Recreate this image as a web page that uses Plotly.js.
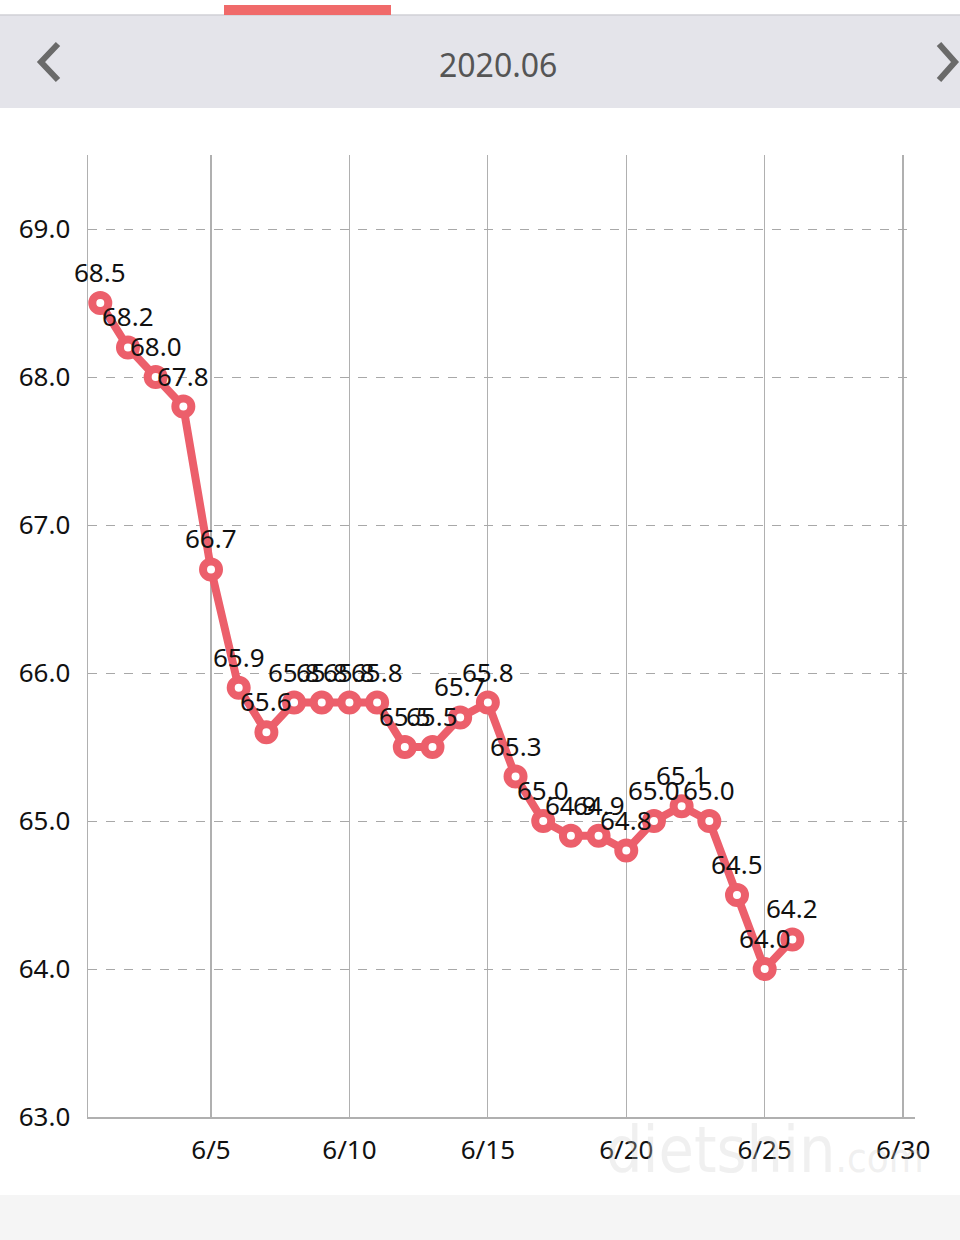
<!DOCTYPE html>
<html>
<head>
<meta charset="utf-8">
<script src="https://cdn.plot.ly/plotly-3.0.1.min.js"></script>
<style>
html,body{margin:0;padding:0;background:#fff;}
#chart{width:960px;height:1240px;}
</style>
</head>
<body>
<div id="chart"></div>
<script>
// ---- data ----
var days = [1,2,3,4,5,6,7,8,9,10,11,12,13,14,15,16,17,18,19,20,21,22,23,24,25,26];
var weights = [68.5,68.2,68.0,67.8,66.7,65.9,65.6,65.8,65.8,65.8,65.8,65.5,65.5,65.7,65.8,65.3,65.0,64.9,64.9,64.8,65.0,65.1,65.0,64.5,64.0,64.2];
var xTickVals = [5,10,15,20,25,30];
var xTickLabels = ['6/5','6/10','6/15','6/20','6/25','6/30'];
var yTickVals = [63,64,65,66,67,68,69];
var monthTitle = '2020.06';

// ---- layout helpers (pixel -> paper) ----
var W = 960, H = 1240, ML = 88, MR = 45, MT = 155, MB = 123;
var PW = W - ML - MR, PH = H - MT - MB;
function px(x){ return (x - ML) / PW; }
function py(y){ return (H - MB - y) / PH; }

var FONT = 'Noto Sans, DejaVu Sans, sans-serif';
var RED = '#ec5f6b';

var trace = {
  x: days, y: weights, type: 'scatter', mode: 'lines+markers',
  line: {color: RED, width: 8},
  marker: {symbol: 'circle', size: 16, color: '#ffffff', line: {color: RED, width: 8}},
  hoverinfo: 'skip', cliponaxis: false
};

var annotations = days.map(function(d, i){
  return {x: d, y: weights[i], xref: 'x', yref: 'y', text: weights[i].toFixed(1),
    showarrow: false, yshift: 31, font: {family: FONT, size: 26, color: '#111'}};
});
annotations.push({xref:'paper', yref:'paper', x: px(498), y: py(64), xanchor:'center', yanchor:'middle', text: monthTitle,
  showarrow:false, font:{family: FONT, size: 32, color:'#555'}});
annotations.push({xref:'paper', yref:'paper', x: px(765), y: py(1150), xanchor:'center', yanchor:'middle',
  text: 'dietshin<span style="font-size:40px">.com</span>',
  showarrow:false, font:{family: 'DejaVu Sans Condensed, DejaVu Sans, sans-serif', size: 64, color:'rgba(205,205,205,0.3)'}});

var shapes = [
  // header band
  {type:'rect', xref:'paper', yref:'paper', x0: px(0), x1: px(960), y0: py(108), y1: py(15), fillcolor:'#e4e4ea', line:{width:0}, layer:'below'},
  {type:'line', xref:'paper', yref:'paper', x0: px(0), x1: px(960), y0: py(15), y1: py(15), line:{color:'#d0d0d6', width:1.5}},
  // red tab
  {type:'rect', xref:'paper', yref:'paper', x0: px(224), x1: px(391), y0: py(15), y1: py(5), fillcolor:'#f06a6a', line:{width:0}},
  // chevrons
  {type:'path', xref:'paper', yref:'paper', path: 'M '+px(58)+' '+py(44)+' L '+px(41)+' '+py(62)+' L '+px(58)+' '+py(80), line:{color:'#6a6a6a', width:6}},
  {type:'path', xref:'paper', yref:'paper', path: 'M '+px(939)+' '+py(44)+' L '+px(955)+' '+py(62)+' L '+px(939)+' '+py(80), line:{color:'#6a6a6a', width:6}},
  // bottom band
  {type:'rect', xref:'paper', yref:'paper', x0: px(0), x1: px(960), y0: py(1240), y1: py(1195), fillcolor:'#f5f5f5', line:{width:0}, layer:'below'}
];

var layout = {
  width: W, height: H,
  margin: {l: ML, r: MR, t: MT, b: MB, pad: 0},
  paper_bgcolor: '#ffffff', plot_bgcolor: '#ffffff',
  showlegend: false,
  font: {family: FONT, color: '#111'},
  xaxis: {
    range: [0.556, 30.43], tickvals: xTickVals, ticktext: xTickLabels,
    showgrid: true, gridcolor: '#b0b0b0', gridwidth: 1.2,
    zeroline: false, showline: true, linecolor: '#b0b0b0', linewidth: 1.5,
    ticks: 'outside', ticklen: 9, tickcolor: 'rgba(0,0,0,0)',
    tickfont: {family: FONT, size: 26, color: '#111'}, fixedrange: true
  },
  yaxis: {
    range: [63, 69.5], tickvals: yTickVals, tickformat: '.1f',
    showgrid: true, gridcolor: '#a8a8a8', gridwidth: 1, griddash: 'dash',
    zeroline: false, showline: true, linecolor: '#b0b0b0', linewidth: 1.5,
    ticks: 'outside', ticklen: 11, tickcolor: 'rgba(0,0,0,0)',
    tickfont: {family: FONT, size: 26, color: '#111'}, fixedrange: true
  },
  shapes: shapes,
  annotations: annotations
};

Plotly.newPlot('chart', [trace], layout, {displayModeBar: false, staticPlot: true});
</script>
</body>
</html>
